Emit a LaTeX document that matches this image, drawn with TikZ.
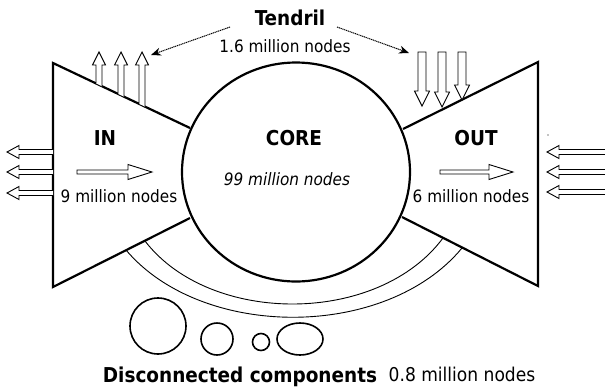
\documentclass[tikz,border=0pt]{standalone}
\usepackage{fontspec}
\setmainfont{DejaVu Sans Condensed}
\usetikzlibrary{calc,arrows.meta,shapes.geometric}
\newcommand\blockarrow[6]{%
  \coordinate (bab) at ($(#2)!#5!(#1)$);
  \draw[blockarr] ($(#1)!#3!90:(#2)$) -- ($(bab)!#3!90:(#2)$) -- ($(bab)!#4!90:(#2)$) -- (#2)
     -- ($(bab)!#4!-90:(#2)$) -- ($(bab)!#3!-90:(#2)$) -- ($(#1)!#3!-90:(#2)$) #6;
}
\tikzset{
  heavy/.style={line width=2.2pt, line join=miter},
  blockarr/.style={line width=0.9pt, line join=miter, fill=white},
  arcline/.style={line width=0.9pt},
  comp/.style={draw, line width=1.6pt, inner sep=0pt},
  lbl/.style={font=\fontsize{17}{20}\selectfont, inner sep=0pt, anchor=base},
  bigb/.style={font=\bfseries\fontsize{20.5}{24}\selectfont, inner sep=0pt, anchor=base},
  tendarrow/.style={dash pattern=on 1.2pt off 0.7pt, line width=1pt, -{Stealth[length=10pt,width=8pt]}}
}
\begin{document}
\begin{tikzpicture}[x=1pt,y=-1pt]
\useasboundingbox (0,0) rectangle (605,389);

% IN and OUT trapezoids
\coordinate (inTL) at (53,63);
\coordinate (inBL) at (53,287);
\coordinate (inTR) at (190,128);
\coordinate (inBR) at (190,218);
\coordinate (outTR) at (538,62);
\coordinate (outBR) at (538,286);
\coordinate (outTL) at (403,129);
\coordinate (outBL) at (402,217);
\draw[heavy] (inTR) -- (inTL) -- (inBL) -- (inBR);
\draw[heavy] (outTL) -- (outTR) -- (outBR) -- (outBL);

% core
\node[draw, ellipse, heavy, minimum width=228, minimum height=219, inner sep=0pt] (core) at (296,172) {};

% bottom arcs
\coordinate (oL) at (126,250);
\coordinate (oR) at (462,248);
\coordinate (iL) at (145,241);
\coordinate (iR) at (443,238);
\draw[arcline] (oL) .. controls (202,340) and (386,340) .. (oR);
\draw[arcline] (iL) .. controls (210,325.5) and (378,325.5) .. (iR);

% left outward arrows
\foreach \y [count=\i] in {152,172,193}{
  \coordinate (lt\i) at (53,\y);
  \coordinate (lh\i) at (7,\y);
  \blockarrow{lt\i}{lh\i}{2.5pt}{6.5pt}{12pt}{}
}
% right incoming arrows
\foreach \y [count=\i] in {152,172,192}{
  \coordinate (rt\i) at (612,\y);
  \coordinate (rh\i) at (547,\y);
  \blockarrow{rt\i}{rh\i}{2.5pt}{6.5pt}{12pt}{}
}
% tendril arrows up from IN
\begin{scope}
  \clip (inTL) -- (inTR) -- (190,0) -- (53,0) -- cycle;
  \foreach \x [count=\i] in {99,121,142}{
    \coordinate (ut\i) at (\x,140);
    \coordinate (uh\i) at (\x,52);
    \blockarrow{ut\i}{uh\i}{3pt}{6.5pt}{13pt}{}
  }
\end{scope}
% tendril arrows down into OUT
\coordinate (dt1) at (422,52); \coordinate (dh1) at (422,106);
\coordinate (dt2) at (442,52); \coordinate (dh2) at (442,107);
\coordinate (dt3) at (462,52); \coordinate (dh3) at (462,100);
\foreach \i in {1,2,3}{
  \blockarrow{dt\i}{dh\i}{4pt}{7.5pt}{15pt}{-- cycle}
}

% interior arrows
\coordinate (iat) at (77,172); \coordinate (iah) at (152,172);
\blockarrow{iat}{iah}{2pt}{7.5pt}{24pt}{-- cycle}
\coordinate (oat) at (440,172); \coordinate (oah) at (513,172);
\blockarrow{oat}{oah}{2pt}{7.5pt}{24pt}{-- cycle}

% labels
\node[bigb] (tendril) at (290,25) {Tendril};
\node[lbl] (tendrilN) at (285,52) {1.6 million nodes};
\node[bigb] (inL) at (105,145) {IN};
\node[lbl] (inN) at (119,202) {9 million nodes};
\node[bigb] (coreL) at (294,145) {CORE};
\node[lbl] (coreN) at (287,185) {\itshape 99 million nodes};
\node[bigb] (outL) at (476,145) {OUT};
\node[lbl] (outN) at (471,202) {6 million nodes};
\node[bigb] (disc) at (240,382) {Disconnected components};
\node[lbl, font=\fontsize{19}{22}\selectfont] (discN) at (462,381) {0.8 million nodes};

% dotted tendril pointers
\coordinate (t1s) at (230,27); \coordinate (t1e) at (151,55);
\coordinate (t2s) at (337,27); \coordinate (t2e) at (409,53);
\draw[tendarrow] (t1s) -- (t1e);
\draw[tendarrow] (t2s) -- (t2e);

% disconnected components
\node[comp, circle, minimum size=56] (c1) at (158,326) {};
\node[comp, circle, minimum size=32] (c2) at (217,339) {};
\node[comp, circle, minimum size=17] (c3) at (261,342) {};
\node[comp, ellipse, minimum width=46, minimum height=32] (c4) at (300,339) {};

% stray dot
\fill (548,135) circle (0.7);
\end{tikzpicture}
\end{document}
